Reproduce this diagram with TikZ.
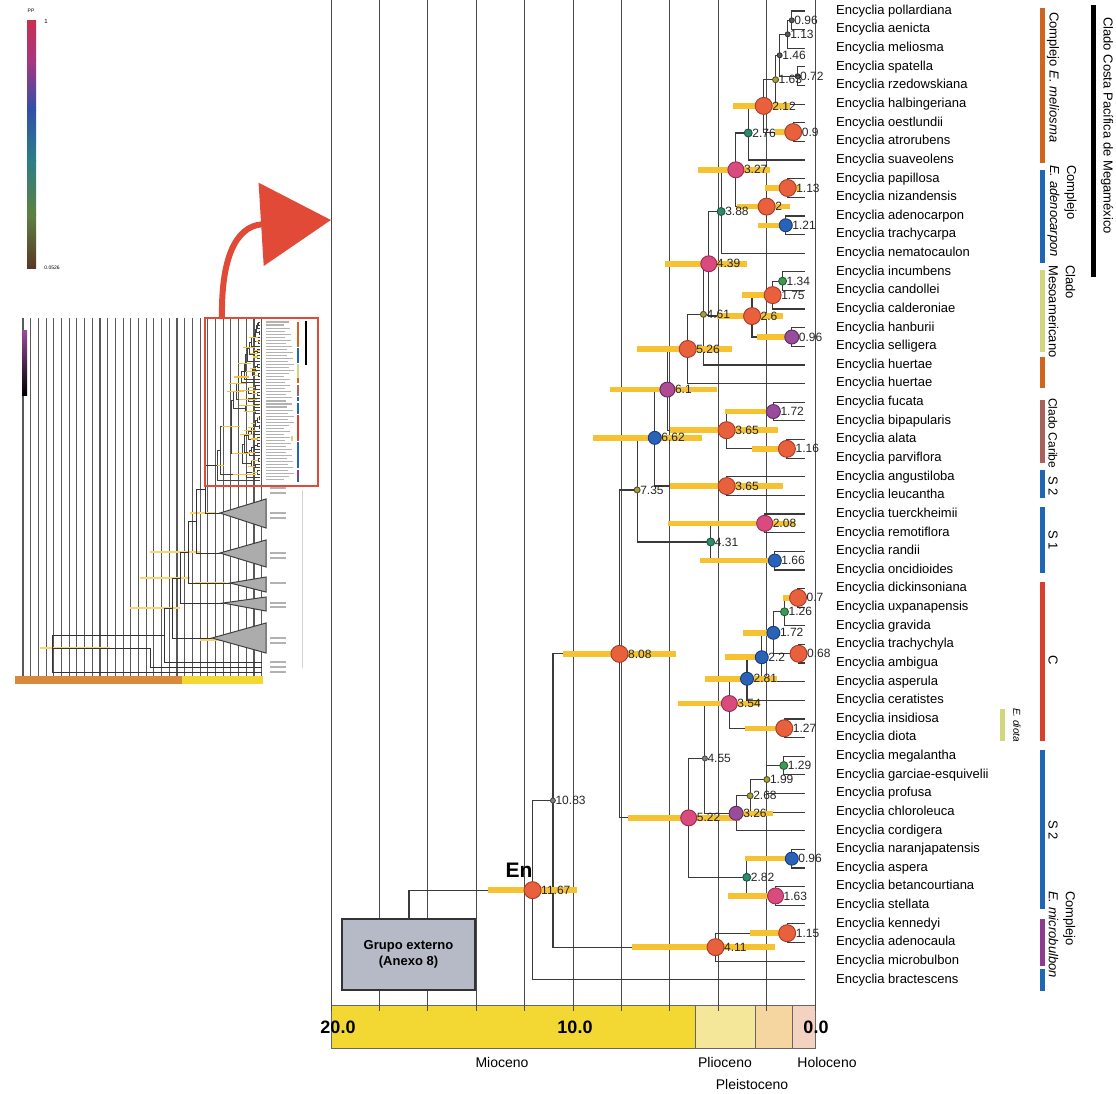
\documentclass[tikz,border=0pt]{standalone}
\usepackage{fontspec}
\setmainfont{Liberation Sans}
\usetikzlibrary{positioning, arrows.meta}

\definecolor{ppred}{HTML}{E8603C}
\definecolor{ppredd}{HTML}{A83A2A}
\definecolor{pppink}{HTML}{D94A7E}
\definecolor{pppinkd}{HTML}{9A2A55}
\definecolor{ppmag}{HTML}{B04A92}
\definecolor{pppurp}{HTML}{9A4C9C}
\definecolor{pppurpd}{HTML}{5E2A62}
\definecolor{ppblue}{HTML}{2A62B8}
\definecolor{ppblued}{HTML}{183C7A}
\definecolor{ppteal}{HTML}{2E8A6C}
\definecolor{ppgreen}{HTML}{3C9A52}
\definecolor{ppolive}{HTML}{A4A040}
\definecolor{hpdcol}{HTML}{F6C232}
\definecolor{branchcol}{HTML}{3A3A3A}
\definecolor{gridcol}{HTML}{4A4A4A}
\definecolor{mioc}{HTML}{F3D834}
\definecolor{plioc}{HTML}{F4E79A}
\definecolor{pleis}{HTML}{F5D6A0}
\definecolor{holoc}{HTML}{F4D2C2}
\definecolor{cmel}{HTML}{D0661E}
\definecolor{cblue}{HTML}{1F66B4}
\definecolor{cmeso}{HTML}{D2D67C}
\definecolor{ccar}{HTML}{A8625A}
\definecolor{cred}{HTML}{D8402C}
\definecolor{cpurp}{HTML}{8E3A8E}
\definecolor{arrred}{HTML}{E04A36}
\definecolor{boxfill}{HTML}{B6BAC6}
\definecolor{thumbor}{HTML}{D88A3A}

% x from age (Ma), y given
\newcommand{\tnode}[3]{\coordinate (#1) at ({815-24.2*#2},#3);}
\newcommand{\clade}[3]{\draw[branch] (#1) |- (#2) (#1) |- (#3);}
\newcommand{\hpdbar}[3]{\draw[hpd] (#2,0 |- #1) -- (#3,0 |- #1);}
\newcommand{\ppdot}[3]{\node[#2, label={[age]east:#3}] at (#1) {};}

% --- arbol (coordenadas y ramas) ---
\newcommand{\encycliatree}{%
  \foreach \i in {1,...,53} {\coordinate (e\i) at (805,{11+(\i-1)*18.63});}
  \tnode{n096a}{0.96}{20.32}
  \tnode{n113}{1.13}{34.29}
  \tnode{n072}{0.72}{76.21}
  \tnode{n146}{1.46}{55.25}
  \tnode{n163a}{1.63}{79.70}
  \tnode{n09}{0.9}{132.10}
  \tnode{n212}{2.12}{105.90}
  \tnode{n276}{2.76}{132.97}
  \tnode{n113b}{1.13}{187.99}
  \tnode{n121}{1.21}{225.25}
  \tnode{n2}{2}{206.62}
  \tnode{n327}{3.27}{169.80}
  \tnode{n388}{3.88}{211.50}
  \tnode{n134}{1.34}{281.14}
  \tnode{n175}{1.75}{295.11}
  \tnode{n096b}{0.96}{337.03}
  \tnode{n26}{2.6}{316.07}
  \tnode{n439}{4.39}{263.79}
  \tnode{n461}{4.61}{314.38}
  \tnode{n526}{5.26}{348.99}
  \tnode{n172a}{1.72}{411.55}
  \tnode{n116}{1.16}{448.81}
  \tnode{n365a}{3.65}{430.18}
  \tnode{n61}{6.1}{389.59}
  \tnode{n365b}{3.65}{486.07}
  \tnode{n662}{6.62}{437.83}
  \tnode{n208}{2.08}{523.33}
  \tnode{n166}{1.66}{560.59}
  \tnode{n431}{4.31}{541.96}
  \tnode{n735}{7.35}{489.90}
  \tnode{n07}{0.7}{597.85}
  \tnode{n126}{1.26}{611.82}
  \tnode{n068}{0.68}{653.74}
  \tnode{n172b}{1.72}{632.78}
  \tnode{n22}{2.2}{657.23}
  \tnode{n281}{2.81}{678.77}
  \tnode{n127}{1.27}{728.26}
  \tnode{n354}{3.54}{703.52}
  \tnode{n129}{1.29}{765.52}
  \tnode{n199}{1.99}{779.49}
  \tnode{n268}{2.68}{795.79}
  \tnode{n326}{3.26}{813.26}
  \tnode{n455}{4.55}{758.39}
  \tnode{n096c}{0.96}{858.67}
  \tnode{n163b}{1.63}{895.93}
  \tnode{n282}{2.82}{877.30}
  \tnode{n522}{5.22}{817.85}
  \tnode{n808}{8.08}{653.88}
  \tnode{n115}{1.15}{933.19}
  \tnode{n411}{4.11}{947.16}
  \tnode{n1083}{10.83}{800.52}
  \tnode{n1167}{11.67}{890.14}
  % ramas
  \clade{n096a}{e1}{e2}
  \clade{n113}{n096a}{e3}
  \clade{n072}{e4}{e5}
  \clade{n146}{n113}{n072}
  \clade{n163a}{n146}{e6}
  \clade{n09}{e7}{e8}
  \clade{n212}{n163a}{n09}
  \clade{n276}{n212}{e9}
  \clade{n113b}{e10}{e11}
  \clade{n121}{e12}{e13}
  \clade{n2}{n113b}{n121}
  \clade{n327}{n276}{n2}
  \clade{n388}{n327}{e14}
  \clade{n134}{e15}{e16}
  \clade{n175}{n134}{e17}
  \clade{n096b}{e18}{e19}
  \clade{n26}{n175}{n096b}
  \clade{n439}{n388}{n26}
  \clade{n461}{n439}{e20}
  \clade{n526}{n461}{e21}
  \clade{n172a}{e22}{e23}
  \clade{n116}{e24}{e25}
  \clade{n365a}{n172a}{n116}
  \clade{n61}{n526}{n365a}
  \clade{n365b}{e26}{e27}
  \clade{n662}{n61}{n365b}
  \clade{n208}{e28}{e29}
  \clade{n166}{e30}{e31}
  \clade{n431}{n208}{n166}
  \clade{n735}{n662}{n431}
  \clade{n07}{e32}{e33}
  \clade{n126}{n07}{e34}
  \clade{n068}{e35}{e36}
  \clade{n172b}{n126}{n068}
  \clade{n22}{n172b}{e37}
  \clade{n281}{n22}{e38}
  \clade{n127}{e39}{e40}
  \clade{n354}{n281}{n127}
  \clade{n129}{e41}{e42}
  \clade{n199}{n129}{e43}
  \clade{n268}{n199}{e44}
  \clade{n326}{n268}{e45}
  \clade{n455}{n354}{n326}
  \clade{n096c}{e46}{e47}
  \clade{n163b}{e48}{e49}
  \clade{n282}{n096c}{n163b}
  \clade{n522}{n455}{n282}
  \clade{n808}{n735}{n522}
  \clade{n115}{e50}{e51}
  \clade{n411}{n115}{e52}
  \clade{n1083}{n808}{n411}
  \clade{n1167}{n1083}{e53}
}

% --- intervalos HPD ---
\newcommand{\hpdbars}{%
  \hpdbar{n212}{733}{790}
  \hpdbar{n09}{775}{800}
  \hpdbar{n327}{698}{770}
  \hpdbar{n113b}{765}{800}
  \hpdbar{n2}{737}{790}
  \hpdbar{n121}{758}{793}
  \hpdbar{n439}{665}{747}
  \hpdbar{n175}{742}{780}
  \hpdbar{n26}{717}{783}
  \hpdbar{n096b}{757}{793}
  \hpdbar{n526}{637}{732}
  \hpdbar{n61}{610}{717}
  \hpdbar{n172a}{725}{773}
  \hpdbar{n365a}{670}{778}
  \hpdbar{n662}{593}{702}
  \hpdbar{n116}{752}{790}
  \hpdbar{n365b}{670}{783}
  \hpdbar{n208}{668}{795}
  \hpdbar{n166}{700}{775}
  \hpdbar{n808}{563}{676}
  \hpdbar{n07}{783}{795}
  \hpdbar{n172b}{743}{773}
  \hpdbar{n22}{725}{763}
  \hpdbar{n281}{705}{777}
  \hpdbar{n354}{678}{760}
  \hpdbar{n127}{745}{793}
  \hpdbar{n522}{628}{740}
  \hpdbar{n326}{730}{773}
  \hpdbar{n096c}{745}{792}
  \hpdbar{n163b}{728}{773}
  \hpdbar{n1167}{488}{577}
  \hpdbar{n411}{632}{775}
  \hpdbar{n115}{750}{790}
}

% --- barras de clados ---
\newcommand{\cladebars}{%
  \draw[cbar, cmel] (1042,8) -- (1042,163);
  \draw[cbar, cblue] (1042,170) -- (1042,263);
  \draw[cbar, cmeso] (1042,270) -- (1042,352);
  \draw[cbar, cmel] (1042,357) -- (1042,388);
  \draw[cbar, ccar] (1042,400) -- (1042,463);
  \draw[cbar, cblue] (1042,470) -- (1042,498);
  \draw[cbar, cblue] (1042,507) -- (1042,573);
  \draw[cbar, cred] (1042,582) -- (1042,741);
  \draw[cbar, cblue] (1042,750) -- (1042,909);
  \draw[cbar, cpurp] (1042,919) -- (1042,966);
  \draw[cbar, cblue] (1042,969) -- (1042,991);
  \draw[cbar, black] (1093,5) -- (1093,277);
  \draw[cbar, cmeso] (1002,709) -- (1002,741);
}

\begin{document}
\begin{tikzpicture}[
    x=1pt, y=-1pt,
    branch/.style={draw=branchcol, line width=1.2pt},
    gridln/.style={draw=gridcol, line width=1pt},
    hpd/.style={draw=hpdcol, line width=5.5pt},
    cbar/.style={line width=5pt},
    pp/.style={circle, inner sep=0pt, line width=0.9pt},
    redpp/.style={pp, minimum size=17pt, fill=ppred, draw=ppredd},
    pinkpp/.style={pp, minimum size=16pt, fill=pppink, draw=pppinkd},
    magpp/.style={pp, minimum size=15pt, fill=ppmag, draw=pppurpd},
    purppp/.style={pp, minimum size=14pt, fill=pppurp, draw=pppurpd},
    bluepp/.style={pp, minimum size=13pt, fill=ppblue, draw=ppblued},
    tealpp/.style={pp, minimum size=8pt, fill=ppteal, draw=ppteal!60!black},
    greenpp/.style={pp, minimum size=8pt, fill=ppgreen, draw=ppgreen!60!black},
    olivepp/.style={pp, minimum size=6pt, fill=ppolive, draw=ppolive!50!black},
    tinypp/.style={pp, minimum size=5pt, fill=gray!70!black, draw=black!80},
    graypp/.style={pp, minimum size=5pt, fill=gray, draw=black!70},
    age/.style={font=\fontsize{12}{12}\selectfont, text=black!85, inner sep=0.5pt, label distance=-1pt},
    taxon/.style={anchor=west, font=\fontsize{13}{13}\selectfont, inner sep=0pt},
    rot/.style={rotate=-90, anchor=west, font=\fontsize{13}{17}\selectfont, align=left, inner sep=0pt},
    epoch/.style={font=\fontsize{14}{14}\selectfont, inner sep=0pt},
    tick/.style={font=\bfseries\fontsize{18}{18}\selectfont, inner sep=0pt},
    thumbgrid/.style={draw=black!65, line width=1.1pt},
    thumbbr/.style={draw=black!80, line width=1pt},
    thumbhpd/.style={draw=hpdcol!70, line width=1.6pt},
    thumbtri/.style={fill=gray!65, draw=black!75, line width=1pt},
    thumblab/.style={draw=gray!60, line width=1.1pt}
]
\useasboundingbox (0,0) rectangle (1116,1093);

% --- escala de PP ---
\shade[top color={rgb,255:red,200;green,48;blue,78}, bottom color={rgb,255:red,168;green,54;blue,126}] (27,20) rectangle (36,60);
\shade[top color={rgb,255:red,168;green,54;blue,126}, bottom color={rgb,255:red,48;green,80;blue,168}] (27,60) rectangle (36,110);
\shade[top color={rgb,255:red,48;green,80;blue,168}, bottom color={rgb,255:red,44;green,126;blue,134}] (27,110) rectangle (36,160);
\shade[top color={rgb,255:red,44;green,126;blue,134}, bottom color={rgb,255:red,94;green,128;blue,64}] (27,160) rectangle (36,215);
\shade[top color={rgb,255:red,94;green,128;blue,64}, bottom color={rgb,255:red,90;green,56;blue,40}] (27,215) rectangle (36,268);
\node[font=\fontsize{5}{5}\selectfont] (pplab) at (31,11) {PP};
\node[font=\fontsize{6}{6}\selectfont] (ppmax) at (46,21) {1};
\node[font=\fontsize{5}{5}\selectfont] (ppmin) at (52,268) {0.0526};

% --- miniatura del arbol completo ---
\foreach \k in {0,...,31} \draw[thumbgrid] ({23+7.7*\k},318) -- ({23+7.7*\k},676);
\shade[top color=pppurp, bottom color=black] (22,330) rectangle (27,395);
\fill[thumbor] (15,676) rectangle (182,684);
\fill[mioc] (182,676) rectangle (263,684);
\draw[gray!35, line width=1pt] (302,490) -- (302,668);
\begin{scope}[shift={(132.4,320.2)}, xscale=0.159, yscale=0.163,
    branch/.style={draw=black!75, line width=0.6pt},
    hpd/.style={draw=hpdcol, line width=1.2pt},
    cbar/.style={line width=1.6pt}]
  \encycliatree
  \hpdbars
  \cladebars
  \foreach \i in {1,...,53} \draw[thumblab] (840,{11+(\i-1)*18.63}) -- ++({110+mod(\i*37,70)},0);
\end{scope}
\draw[thumbhpd] (190,513) -- (215,513) (150,552) -- (200,552) (140,578) -- (190,578)
  (195,583) -- (226,583) (130,608) -- (180,608) (40,648) -- (110,648) (200,640) -- (235,640);
\draw[thumbbr] (217,465.3) -| (205,513) -- (220,513);
\draw[thumbbr] (205,489) -| (196,553) -- (220,553);
\draw[thumbbr] (196,521) -| (188,583) -- (230,583);
\draw[thumbbr] (188,552) -| (180,603) -- (223,603);
\draw[thumbbr] (180,578) -| (172,638) -- (212,638);
\draw[thumbbr] (172,608) -| (164,662) -- (262,662);
\draw[thumbbr] (164,635) -- (52,635) -- (52,672) -- (262,672);
\draw[thumbbr] (52,648) -- (150,648) -- (150,667) -- (262,667);
\filldraw[thumbtri] (220,513) -- (266,499) -- (266,528) -- cycle;
\filldraw[thumbtri] (220,553) -- (266,540) -- (266,567) -- cycle;
\filldraw[thumbtri] (230,583) -- (266,577) -- (266,592) -- cycle;
\filldraw[thumbtri] (223,603) -- (266,597) -- (266,611) -- cycle;
\filldraw[thumbtri] (212,638) -- (266,623) -- (266,653) -- cycle;
\foreach \y in {488,493,513,518,553,558,583,603,607,638,643,662,667,672}
  \draw[thumblab] (270,\y) -- ++(16,0);

% --- recuadro y flecha ---
\draw[arrred, line width=2.5pt] (205,318) rectangle (318,486);
\coordinate (arrS) at (222,318);
\coordinate (arrT) at (331,220);
\draw[arrred, line width=6pt, -{Triangle[length=70pt, width=82pt]}]
  (arrS) .. controls (221,262) and (234,226) .. (arrT);

% --- barra de tiempo ---
\draw[draw=black!60, fill=mioc] (331,1005) rectangle (695,1048);
\draw[draw=black!60, fill=plioc] (695,1005) rectangle (755,1048);
\draw[draw=black!60, fill=pleis] (755,1005) rectangle (792,1048);
\draw[draw=black!60, fill=holoc] (792,1005) rectangle (815,1048);
\foreach \k in {0,...,10} \draw[gridln] ({331+48.4*\k},0) -- ({331+48.4*\k},1011);
\node[tick] (t20) at (338,1027) {20.0};
\node[tick] (t10) at (575,1027) {10.0};
\node[tick] (t0) at (816,1027) {0.0};
\node[epoch] (mio) at (502,1062) {Mioceno};
\node[epoch] (plio) at (725,1062) {Plioceno};
\node[epoch] (holo) at (827,1062) {Holoceno};
\node[epoch, below=12pt of plio.south east, anchor=north] (pleisto) {Pleistoceno};

% --- grupo externo ---
\node[draw=black!80, fill=boxfill, line width=1.5pt, minimum width=133pt, minimum height=71pt,
  font=\bfseries\fontsize{13}{16}\selectfont, align=center] (outg) at (408.5,954.5) {Grupo externo\\(Anexo 8)};
\coordinate (stem) at (409,919);

% --- arbol principal ---
\encycliatree
\draw[branch] (stem) |- (n1167);
\hpdbars

% --- nodos (PP) ---
\ppdot{n096a}{tinypp}{0.96}
\ppdot{n113}{tinypp}{1.13}
\ppdot{n146}{tinypp}{1.46}
\ppdot{n072}{tinypp}{0.72}
\ppdot{n163a}{olivepp}{1.63}
\ppdot{n212}{redpp}{2.12}
\ppdot{n09}{redpp}{0.9}
\ppdot{n276}{tealpp}{2.76}
\ppdot{n113b}{redpp}{1.13}
\ppdot{n121}{bluepp}{1.21}
\ppdot{n2}{redpp}{2}
\ppdot{n327}{pinkpp}{3.27}
\ppdot{n388}{tealpp}{3.88}
\ppdot{n134}{greenpp}{1.34}
\ppdot{n175}{redpp}{1.75}
\ppdot{n096b}{purppp}{0.96}
\ppdot{n26}{redpp}{2.6}
\ppdot{n439}{pinkpp}{4.39}
\ppdot{n461}{olivepp}{4.61}
\ppdot{n526}{redpp}{5.26}
\ppdot{n172a}{purppp}{1.72}
\ppdot{n116}{redpp}{1.16}
\ppdot{n365a}{redpp}{3.65}
\ppdot{n61}{magpp}{6.1}
\ppdot{n365b}{redpp}{3.65}
\ppdot{n662}{bluepp}{6.62}
\ppdot{n208}{pinkpp}{2.08}
\ppdot{n166}{bluepp}{1.66}
\ppdot{n431}{tealpp}{4.31}
\ppdot{n735}{olivepp}{7.35}
\ppdot{n07}{redpp}{0.7}
\ppdot{n126}{greenpp}{1.26}
\ppdot{n068}{redpp}{0.68}
\ppdot{n172b}{bluepp}{1.72}
\ppdot{n22}{bluepp}{2.2}
\ppdot{n281}{bluepp}{2.81}
\ppdot{n127}{redpp}{1.27}
\ppdot{n354}{pinkpp}{3.54}
\ppdot{n129}{greenpp}{1.29}
\ppdot{n199}{olivepp}{1.99}
\ppdot{n268}{olivepp}{2.68}
\ppdot{n326}{purppp}{3.26}
\ppdot{n455}{graypp}{4.55}
\ppdot{n096c}{bluepp}{0.96}
\ppdot{n163b}{pinkpp}{1.63}
\ppdot{n282}{tealpp}{2.82}
\ppdot{n522}{pinkpp}{5.22}
\ppdot{n808}{redpp}{8.08}
\ppdot{n115}{redpp}{1.15}
\ppdot{n411}{redpp}{4.11}
\ppdot{n1083}{graypp}{10.83}
\ppdot{n1167}{redpp}{11.67}
\node[font=\bfseries\fontsize{21}{21}\selectfont, inner sep=0pt] (enlab) at (519,870) {En};

% --- nombres de especies ---
\foreach \sp [count=\i] in {pollardiana, aenicta, meliosma, spatella, rzedowskiana,
    halbingeriana, oestlundii, atrorubens, suaveolens, papillosa, nizandensis,
    adenocarpon, trachycarpa, nematocaulon, incumbens, candollei, calderoniae,
    hanburii, selligera, huertae, huertae, fucata, bipapularis, alata, parviflora,
    angustiloba, leucantha, tuerckheimii, remotiflora, randii, oncidioides,
    dickinsoniana, uxpanapensis, gravida, trachychyla, ambigua, asperula,
    ceratistes, insidiosa, diota, megalantha, garciae-esquivelii, profusa,
    chloroleuca, cordigera, naranjapatensis, aspera, betancourtiana, stellata,
    kennedyi, adenocaula, microbulbon, bractescens}
  \node[taxon] (t\i) at (836,{11+(\i-1)*18.63}) {Encyclia \sp};

% --- clados ---
\cladebars
\node[rot] (lmel) at (1053,12) {Complejo \textit{E. meliosma}};
\node[rot] (ladn) at (1062,165) {Complejo\\\textit{E. adenocarpon}};
\node[rot] (lmeso) at (1062,265) {Clado\\Mesoamericano};
\node[rot, font=\fontsize{12}{12}\selectfont] (lcar) at (1053,398) {Clado Caribe};
\node[rot, anchor=center] (ls2a) at (1053,486) {S 2};
\node[rot, anchor=center] (ls1) at (1053,540) {S 1};
\node[rot, anchor=center] (lc) at (1053,660) {C};
\node[rot, anchor=center] (ls2b) at (1053,830) {S 2};
\node[rot] (lmic) at (1062,891) {Complejo\\\textit{E. microbulbon}};
\node[rot, font=\itshape\fontsize{10}{10}\selectfont] (ldiota) at (1017,708) {E. diota};
\node[rot] (lcp) at (1107,17) {Clado Costa Pacífica de Megaméxico};

\end{tikzpicture}
\end{document}
